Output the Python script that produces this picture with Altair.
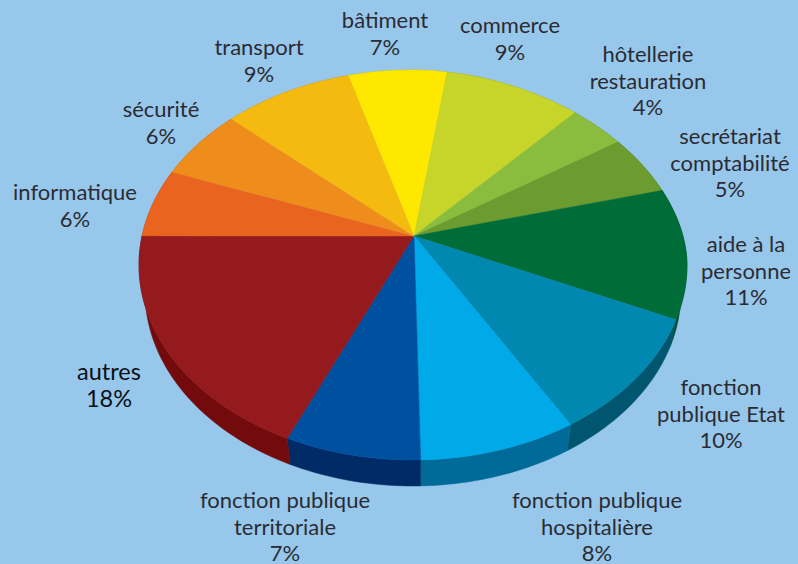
import math
import altair as alt

# Slices clockwise, beginning at the rim point of "bâtiment"
categories = ["bâtiment", "commerce", "hôtellerie\nrestauration", "secrétariat\ncomptabilité",
              "aide à la\npersonne", "fonction\npublique Etat", "fonction publique\nhospitalière",
              "fonction publique\nterritoriale", "autres", "informatique", "sécurité", "transport"]
percent = [7, 9, 4, 5, 11, 10, 8, 7, 18, 6, 6, 9]
# visible sweep of every slice on the drawn (perspective) rim, degrees
sweep = [21.8, 29.5, 12.0, 16.5, 40.2, 38.6, 33.5, 28.9, 71.3, 19.9, 20.0, 27.8]
top_colors = ["#ffe800", "#c7d429", "#8abd3d", "#6c9b30", "#006c38", "#0088b0",
              "#00a9e8", "#0050a0", "#951a1d", "#e9641f", "#ee8d1c", "#f5ba10"]
side_colors = ["#b3a300", "#8c9520", "#618530", "#4c6d22", "#004d28", "#00566f",
               "#006b99", "#002b66", "#730b0d", "#a34615", "#a66313", "#ac820b"]
label_x = [385, 510, 648, 730, 746, 721, 597, 285, 109, 75, 161, 259]
label_y = [21, 26, 55, 137, 245, 388, 501, 501, 373, 193, 110, 48]
label_fill = ["#2b2b33"] * 8 + ["#0c1016"] + ["#2b2b33"] * 3
label_size = [22] * 8 + [23.5] + [22] * 3

OFF = 8  # page margin
START = 346.3
CX, CY, RX, RY = 413, 265, 274, 195
APEX = (414, 236)
BX, BY, BRX, BRY = 413, 292, 268, 194


def rim(a, cx=CX, cy=CY, rx=RX, ry=RY, top=True):
    r = math.radians(a)
    s, c = math.sin(r), math.cos(r)
    e = 2 / 1.88 if (top and s > 0 and c > 0) else 1.0
    return (cx + rx * math.copysign(abs(s) ** e, s), cy - ry * math.copysign(abs(c) ** e, c))


def arc(a0, a1, **kw):
    n = max(2, int(abs(a1 - a0) / 1.5) + 2)
    return [rim(a0 + (a1 - a0) * i / (n - 1), **kw) for i in range(n)]


def feature(pts, color):
    ring = [[x - OFF, y - OFF] for x, y in pts]
    ring.append(ring[0])
    return {"type": "Feature", "properties": {"color": color},
            "geometry": {"type": "Polygon", "coordinates": [ring]}}


tops, walls = [], []
a = START
for dv, tc, sc in zip(sweep, top_colors, side_colors):
    tops.append(feature([APEX] + arc(a, a + dv), tc))
    walls.append(feature(arc(a, a + dv) + arc(a + dv, a, cx=BX, cy=BY, rx=BRX, ry=BRY, top=False), sc))
    a += dv

labels = [{"text": f"{c}\n{p}%", "lon": x - OFF, "lat": y - OFF, "fill": f, "size": s}
          for c, p, x, y, f, s in zip(categories, percent, label_x, label_y, label_fill, label_size)]


def shapes(features):
    return alt.Chart(alt.Data(values=features)).mark_geoshape(strokeWidth=0.5).encode(
        fill=alt.Fill("properties.color:N", scale=None),
        stroke=alt.Stroke("properties.color:N", scale=None),
    )


text = alt.Chart(alt.Data(values=labels)).mark_text(
    font="Lato", lineBreak="\n", lineHeight=26.5, align="center", baseline="middle"
).encode(
    longitude="lon:Q", latitude="lat:Q", text="text:N",
    color=alt.Color("fill:N", scale=None),
    size=alt.Size("size:Q", scale=None),
)

chart = alt.layer(shapes(walls), shapes(tops), text).project(
    type="identity", scale=1, translate=[0, 0]
).properties(
    width=782, height=556, background="#97c8ec", padding=0,
    autosize=alt.AutoSizeParams(type="none"),
).configure_view(stroke=None)

chart.save("out.html", embed_options={"renderer": "svg", "actions": False,
                                      "defaultStyle": "html,body{background:#97c8ec;}"})
